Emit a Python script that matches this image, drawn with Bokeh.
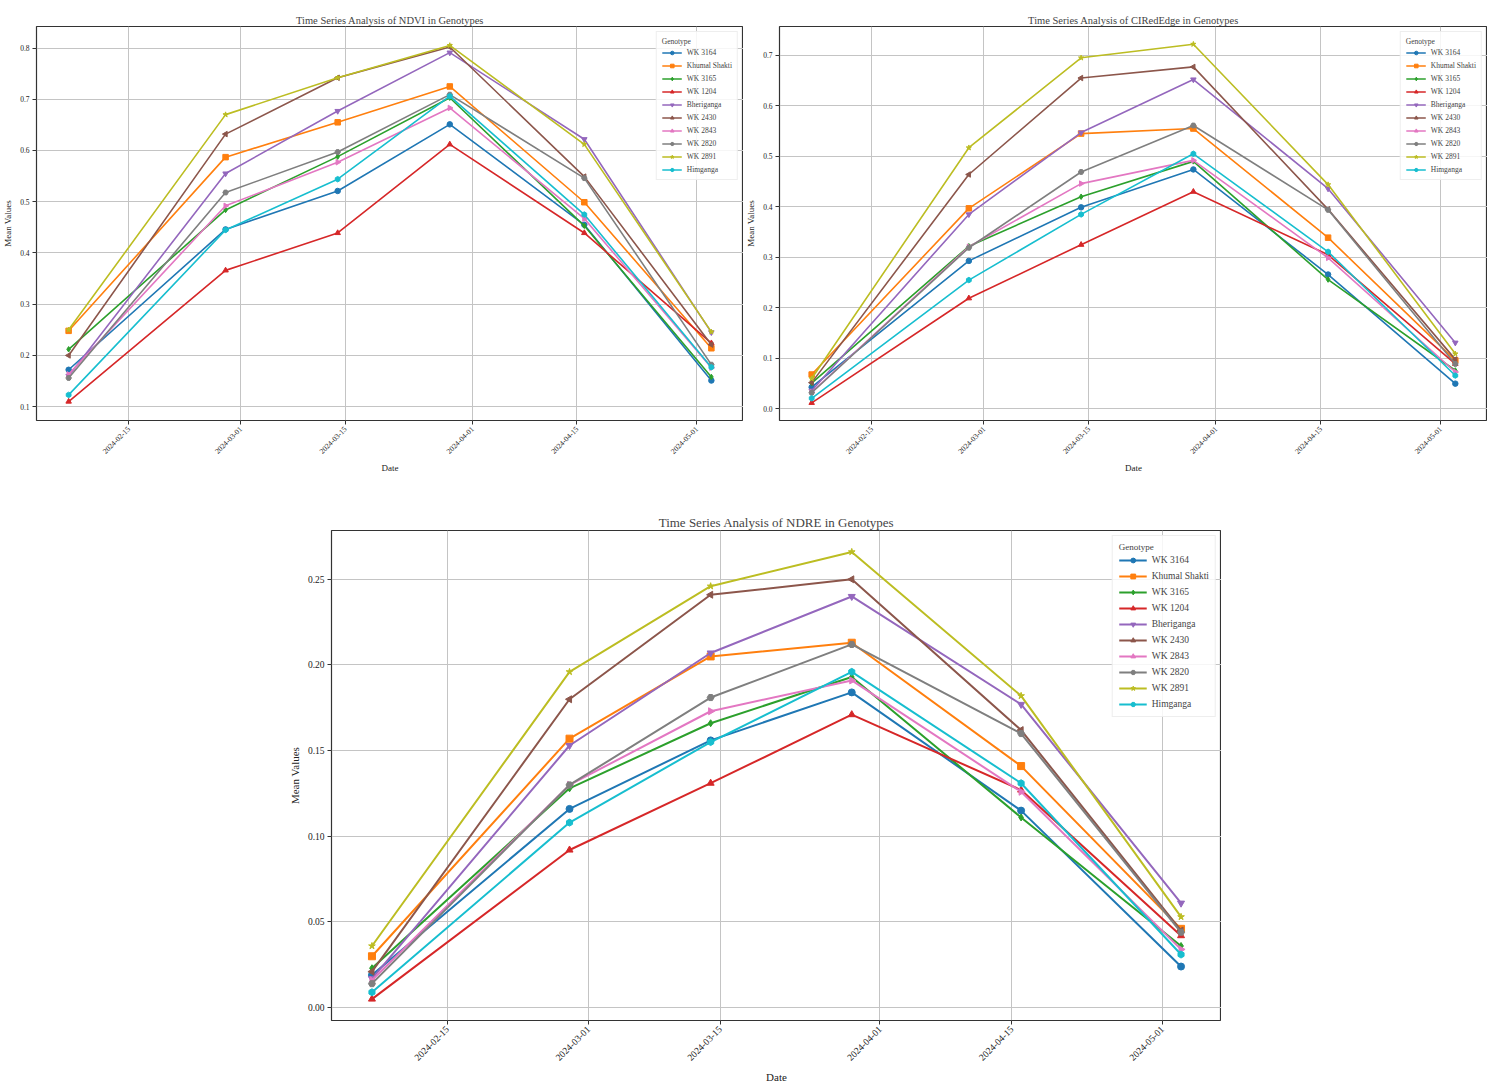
from datetime import datetime
import math

from bokeh.plotting import figure
from bokeh.models import FixedTicker, DatetimeTickFormatter, PrintfTickFormatter, Range1d, Spacer
from bokeh.layouts import column, row
from bokeh.embed import file_html
from bokeh.resources import INLINE

dates = ["2024-02-07", "2024-02-28", "2024-03-14", "2024-03-29", "2024-04-16", "2024-05-03"]
tick_dates = ["2024-02-15", "2024-03-01", "2024-03-15", "2024-04-01", "2024-04-15", "2024-05-01"]

genotypes = ["WK 3164", "Khumal Shakti", "WK 3165", "WK 1204", "Bheriganga",
             "WK 2430", "WK 2843", "WK 2820", "WK 2891", "Himganga"]

ndvi = {
    "WK 3164":       [0.172, 0.446, 0.521, 0.651, 0.455, 0.151],
    "Khumal Shakti": [0.248, 0.587, 0.655, 0.725, 0.499, 0.214],
    "WK 3165":       [0.212, 0.484, 0.588, 0.703, 0.453, 0.158],
    "WK 1204":       [0.110, 0.366, 0.439, 0.612, 0.439, 0.224],
    "Bheriganga":    [0.160, 0.555, 0.677, 0.791, 0.622, 0.245],
    "WK 2430":       [0.200, 0.632, 0.742, 0.802, 0.549, 0.221],
    "WK 2843":       [0.163, 0.492, 0.577, 0.683, 0.467, 0.176],
    "WK 2820":       [0.156, 0.518, 0.597, 0.709, 0.546, 0.182],
    "WK 2891":       [0.250, 0.670, 0.742, 0.805, 0.612, 0.246],
    "Himganga":      [0.123, 0.445, 0.544, 0.706, 0.475, 0.177],
}

ciredge = {
    "WK 3164":       [0.043, 0.293, 0.399, 0.474, 0.266, 0.050],
    "Khumal Shakti": [0.068, 0.397, 0.545, 0.555, 0.339, 0.096],
    "WK 3165":       [0.051, 0.322, 0.420, 0.490, 0.256, 0.076],
    "WK 1204":       [0.012, 0.219, 0.325, 0.430, 0.305, 0.089],
    "Bheriganga":    [0.036, 0.385, 0.547, 0.652, 0.436, 0.131],
    "WK 2430":       [0.052, 0.464, 0.655, 0.677, 0.395, 0.098],
    "WK 2843":       [0.033, 0.321, 0.446, 0.492, 0.299, 0.073],
    "WK 2820":       [0.032, 0.319, 0.469, 0.561, 0.394, 0.089],
    "WK 2891":       [0.060, 0.517, 0.695, 0.722, 0.444, 0.109],
    "Himganga":      [0.021, 0.255, 0.385, 0.505, 0.311, 0.066],
}

ndre = {
    "WK 3164":       [0.019, 0.116, 0.156, 0.184, 0.115, 0.024],
    "Khumal Shakti": [0.030, 0.157, 0.205, 0.213, 0.141, 0.046],
    "WK 3165":       [0.023, 0.128, 0.166, 0.193, 0.111, 0.036],
    "WK 1204":       [0.005, 0.092, 0.131, 0.171, 0.127, 0.042],
    "Bheriganga":    [0.017, 0.153, 0.207, 0.240, 0.177, 0.061],
    "WK 2430":       [0.021, 0.180, 0.241, 0.250, 0.162, 0.045],
    "WK 2843":       [0.016, 0.130, 0.173, 0.191, 0.126, 0.034],
    "WK 2820":       [0.014, 0.130, 0.181, 0.212, 0.160, 0.044],
    "WK 2891":       [0.036, 0.196, 0.246, 0.266, 0.182, 0.053],
    "Himganga":      [0.009, 0.108, 0.155, 0.196, 0.131, 0.031],
}

colors = ["#1f77b4", "#ff7f0e", "#2ca02c", "#d62728", "#9467bd",
          "#8c564b", "#e377c2", "#7f7f7f", "#bcbd22", "#17becf"]
# matplotlib markers o s D ^ v < > p * h
markers = ["circle", "square", "diamond", "triangle", "inverted_triangle",
           "triangle", "triangle", "hex", "star", "hex"]
angles = [0, 0, 0, 0, 0, math.pi / 2, -math.pi / 2, 0, 0, math.pi / 6]

FONT = "Liberation Serif"


def to_dt(s):
    return datetime.strptime(s, "%Y-%m-%d")


def make_plot(title, data, yticks, fmt, yr, fw, fh, big=False, left=30, top=18, right=0, bottom=58):
    x = [to_dt(d) for d in dates]
    p = figure(x_axis_type="datetime", frame_width=fw, frame_height=fh,
               output_backend="svg", toolbar_location=None,
               min_border_left=left, min_border_top=top, min_border_right=right,
               min_border_bottom=bottom)
    p.title.text = title
    p.title.align = "center"
    p.title.text_font = FONT
    p.title.text_font_style = "normal"
    p.title.text_font_size = "13px" if big else "10.5px"
    p.title.standoff = 2

    span = (x[-1] - x[0]).total_seconds() * 1000
    x0 = x[0].timestamp() * 1000 - span * 0.05
    x1 = x[-1].timestamp() * 1000 + span * 0.05
    p.x_range = Range1d(x0, x1)
    p.y_range = Range1d(*yr)

    lw = 2 if big else 1.6
    ms = 7 if big else 5.5
    for i, g in enumerate(genotypes):
        p.line(x, data[g], color=colors[i], line_width=lw, legend_label=g)
        p.scatter(x, data[g], marker=markers[i], angle=angles[i], size=ms,
                  color=colors[i], legend_label=g)

    p.xaxis.ticker = FixedTicker(ticks=[to_dt(t).timestamp() * 1000 for t in tick_dates])
    p.xaxis.formatter = DatetimeTickFormatter(days="%Y-%m-%d", months="%Y-%m-%d")
    p.xaxis.major_label_orientation = math.pi / 4
    p.yaxis.ticker = FixedTicker(ticks=yticks)
    p.yaxis.formatter = PrintfTickFormatter(format=fmt)

    tick_fs = "9.5px" if big else "7.5px"
    for ax in (p.xaxis, p.yaxis):
        ax.major_label_text_font = FONT
        ax.major_label_text_font_size = tick_fs
        ax.major_label_text_color = "#222222"
        ax.axis_label_text_font = FONT
        ax.axis_label_text_font_style = "normal"
        ax.axis_label_text_color = "#222222"
        ax.axis_line_color = None
        ax.major_tick_line_color = "#333333"
        ax.major_tick_in = 0
        ax.major_tick_out = 4
        ax.minor_tick_line_color = None
        ax.major_label_standoff = 3
        ax.axis_label_standoff = 4
    p.xaxis.axis_label = "Date"
    p.yaxis.axis_label = "Mean Values"
    p.xaxis.axis_label_text_font_size = "11px" if big else "9px"
    p.yaxis.axis_label_text_font_size = "11px" if big else "9px"

    p.grid.grid_line_color = "#c4c4c4"
    p.grid.grid_line_width = 1
    p.outline_line_color = "#333333"
    p.outline_line_width = 1.2
    p.background_fill_color = "white"
    p.border_fill_color = "white"

    leg = p.legend[0]
    leg.location = "top_right"
    leg.title = "Genotype"
    leg.title_text_font = FONT
    leg.title_text_font_style = "normal"
    leg.title_text_font_size = "9px" if big else "7.5px"
    leg.title_standoff = 2
    leg.label_text_font = FONT
    leg.label_text_font_size = "9.5px" if big else "7.5px"
    leg.label_height = 12 if big else 9
    leg.glyph_height = 12 if big else 9
    leg.glyph_width = 28 if big else 20
    leg.spacing = 4
    leg.padding = 6 if big else 5
    leg.margin = 5
    leg.border_line_color = "#dddddd"
    leg.border_line_width = 1
    leg.background_fill_alpha = 0.85
    return p


p1 = make_plot("Time Series Analysis of NDVI in Genotypes", ndvi,
               [0.1, 0.2, 0.3, 0.4, 0.5, 0.6, 0.7, 0.8], "%.1f",
               (0.073, 0.842), 707, 394, left=30, top=24)
p2 = make_plot("Time Series Analysis of CIRedEdge in Genotypes", ciredge,
               [0.0, 0.1, 0.2, 0.3, 0.4, 0.5, 0.6, 0.7], "%.1f",
               (-0.023, 0.757), 708, 394, left=32, top=26)
p3 = make_plot("Time Series Analysis of NDRE in Genotypes", ndre,
               [0.0, 0.05, 0.1, 0.15, 0.2, 0.25], "%.2f",
               (-0.0075, 0.2785), 890, 490, big=True, left=40, top=52, bottom=56)

layout = column(row(p1, p2), row(Spacer(width=285), p3))

open("out.html", "w").write(file_html(layout, INLINE))
